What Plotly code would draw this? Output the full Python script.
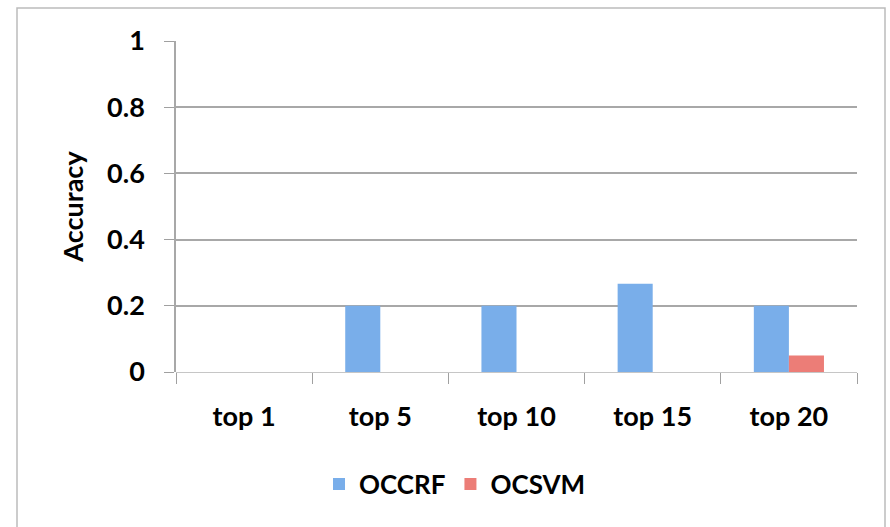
import plotly.graph_objects as go

# Accuracy of the two one-class models at each top-k cutoff
categories = ["top 1", "top 5", "top 10", "top 15", "top 20"]
occrf = [0.0, 0.2, 0.2, 0.2667, 0.2]
ocsvm = [0.0, 0.0, 0.0, 0.0, 0.05]
y_ticks = [0, 0.2, 0.4, 0.6, 0.8, 1]

FONT = "Lato"

fig = go.Figure()
fig.add_trace(go.Bar(
    name="OCCRF", x=categories, y=occrf,
    marker=dict(color="#79aeea", line=dict(width=0)),
))
fig.add_trace(go.Bar(
    name="OCSVM", x=categories, y=ocsvm,
    marker=dict(color="#ec7d77", line=dict(width=0)),
))

W, H = 890, 527
L, R, T, B = 176, 33, 41, 155
pw, ph = W - L - R, H - T - B

# light outer frame around the whole chart
fig.add_shape(
    type="rect", xref="paper", yref="paper", layer="below",
    x0=(17 - L) / pw, x1=(885 - L) / pw,
    y0=(H - B - 560) / ph, y1=(H - B - 8) / ph,
    line=dict(color="#bcbcbc", width=1.5), fillcolor="rgba(0,0,0,0)",
)

fig.update_layout(
    width=W, height=H,
    margin=dict(l=L, r=R, t=T, b=B, pad=0),
    paper_bgcolor="white", plot_bgcolor="white",
    barmode="group", bargap=0.485, bargroupgap=0,
    font=dict(family=FONT, color="black"),
    showlegend=True,
    legend=dict(
        orientation="h", x=(455 - L) / pw, y=(H - B - 484) / ph,
        xanchor="center", yanchor="middle",
        font=dict(size=26, family=FONT, weight="bold"),
        itemwidth=30, tracegroupgap=0,
    ),
    xaxis=dict(
        type="category", tickson="boundaries",
        ticks="outside", ticklen=11, tickwidth=1, tickcolor="#a0a0a0",
        showline=False, showgrid=False, zeroline=False,
        tickfont=dict(size=27, family=FONT, weight="bold"),
        ticklabelstandoff=26,
    ),
    yaxis=dict(
        range=[0, 1], tickvals=y_ticks,
        ticks="outside", ticklen=10, tickwidth=1, tickcolor="#a0a0a0",
        showline=True, linecolor="#a8a8a8", linewidth=1.5,
        showgrid=True, gridcolor="#a8a8a8", gridwidth=1.5,
        zeroline=True, zerolinecolor="#c6c6c6", zerolinewidth=1,
        tickfont=dict(size=27, family=FONT, weight="bold"),
        ticklabelstandoff=14,
        title=dict(text="Accuracy", font=dict(size=27, family=FONT, weight="bold"), standoff=16),
    ),
)

fig.write_html("out.html")
